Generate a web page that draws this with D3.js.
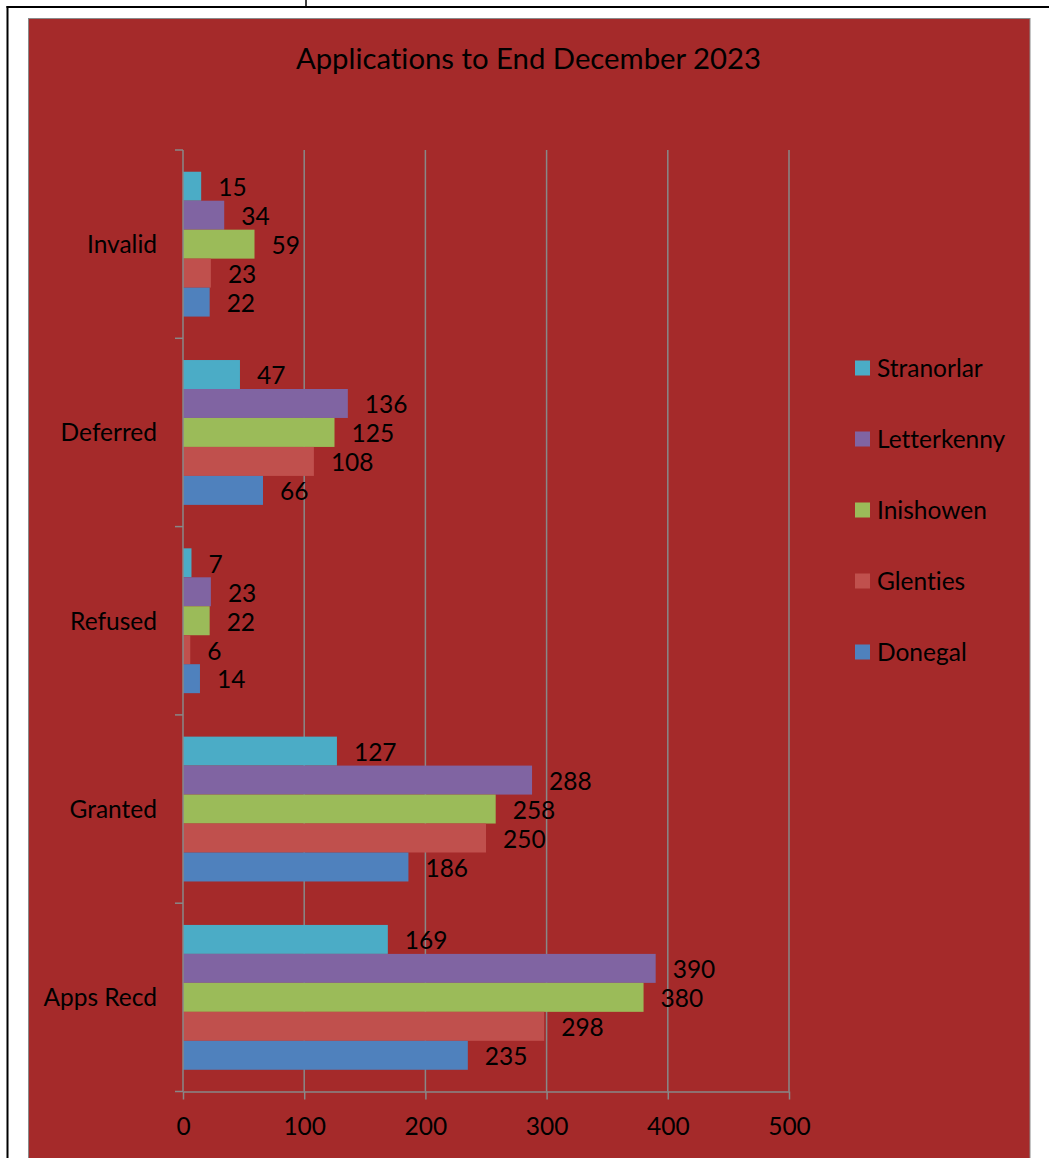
<!DOCTYPE html>
<html>
<head>
<meta charset="utf-8">
<script src="https://cdn.jsdelivr.net/npm/d3@7"></script>
<style>
  body { margin: 0; background: #fff; }
  svg { display: block; font-family: Lato, "Open Sans", sans-serif; font-variant-ligatures: none; }
</style>
</head>
<body>
<div id="chart"></div>
<script>
const categories = ["Invalid", "Deferred", "Refused", "Granted", "Apps Recd"],
    offices = ["Stranorlar", "Letterkenny", "Inishowen", "Glenties", "Donegal"],
    stranorlar = [15, 47, 7, 127, 169],
    letterkenny = [34, 136, 23, 288, 390],
    inishowen = [59, 125, 22, 258, 380],
    glenties = [23, 108, 6, 250, 298],
    donegal = [22, 66, 14, 186, 235],
    xTicks = [0, 100, 200, 300, 400, 500],
    colors = ["#4BACC6", "#8064A2", "#9BBB59", "#C0504D", "#4F81BD"];

const seriesValues = [stranorlar, letterkenny, inishowen, glenties, donegal];

const W = 1049, H = 1158,
    plot = {left: 183, right: 789, top: 150, bottom: 1091.5},
    grey = "#888888",
    fontSize = "24.5px";

const svg = d3.select("#chart").append("svg")
    .attr("width", W)
    .attr("height", H);

// frame lines around the chart (document table borders)
svg.append("line").attr("x1", 306).attr("x2", 306).attr("y1", 0).attr("y2", 7)
    .attr("stroke", "#000").attr("stroke-width", 1.5);
svg.append("line").attr("x1", 6.5).attr("x2", W).attr("y1", 7).attr("y2", 7)
    .attr("stroke", "#000").attr("stroke-width", 2);
svg.append("line").attr("x1", 7.5).attr("x2", 7.5).attr("y1", 6).attr("y2", H)
    .attr("stroke", "#000").attr("stroke-width", 2);

// chart area
svg.append("rect")
    .attr("x", 28.5).attr("y", 18.5)
    .attr("width", 1030 - 28.5).attr("height", H)
    .attr("fill", "#A52A2A")
    .attr("stroke", "#8a8a8a")
    .attr("stroke-width", 1);

svg.append("text")
    .attr("x", 528.5).attr("y", 69)
    .attr("text-anchor", "middle")
    .style("font-size", "29.3px")
    .style("fill", "#000")
    .text("Applications to End December 2023");

const x = d3.scaleLinear()
    .domain([0, 500])
    .range([plot.left, plot.right]);

const y = d3.scaleBand()
    .domain(categories)
    .range([plot.top, plot.bottom]);

const yInner = d3.scaleBand()
    .domain(offices)
    .range([0, y.bandwidth()])
    .paddingOuter(0.75);

// gridlines
svg.append("g").selectAll("line")
    .data(xTicks.slice(1))
    .enter().append("line")
    .attr("x1", d => x(d)).attr("x2", d => x(d))
    .attr("y1", plot.top).attr("y2", plot.bottom)
    .attr("stroke", grey).attr("stroke-width", 1.5);

// bars
const groups = svg.selectAll("g.office")
    .data(offices)
    .enter().append("g")
    .attr("class", "office")
    .style("fill", (d, i) => colors[i]);

groups.selectAll("rect")
    .data((o, i) => categories.map((c, j) => ({cat: c, office: o, value: seriesValues[i][j]})))
    .enter().append("rect")
    .attr("x", x(0))
    .attr("y", d => y(d.cat) + yInner(d.office))
    .attr("width", d => x(d.value) - x(0))
    .attr("height", yInner.bandwidth());

groups.selectAll("text")
    .data((o, i) => categories.map((c, j) => ({cat: c, office: o, value: seriesValues[i][j]})))
    .enter().append("text")
    .attr("x", d => x(d.value) + 17)
    .attr("y", d => y(d.cat) + yInner(d.office) + yInner.bandwidth() / 2)
    .attr("dy", "0.4em")
    .style("font-size", fontSize)
    .style("fill", "#000")
    .text(d => d.value);

// x axis
const xAxis = svg.append("g")
    .attr("transform", "translate(0," + plot.bottom + ")")
    .call(d3.axisBottom(x).tickValues(xTicks).tickSizeInner(8).tickSizeOuter(0));
xAxis.select(".domain").attr("stroke", grey).attr("stroke-width", 1.5);
xAxis.selectAll(".tick line").attr("stroke", grey).attr("stroke-width", 1.5);
xAxis.selectAll(".tick text")
    .attr("y", 43).attr("dy", 0)
    .style("font-size", fontSize)
    .style("font-family", "Lato, 'Open Sans', sans-serif")
    .style("fill", "#000");

// y axis: ticks on category boundaries, labels at band centres
const yAxis = svg.append("g");
yAxis.append("line")
    .attr("x1", plot.left).attr("x2", plot.left)
    .attr("y1", plot.top).attr("y2", plot.bottom)
    .attr("stroke", grey).attr("stroke-width", 1.5);
yAxis.selectAll("line.tick")
    .data(categories.map(c => y(c)).concat([y.range()[1]]))
    .enter().append("line")
    .attr("class", "tick")
    .attr("x1", plot.left - 8).attr("x2", plot.left)
    .attr("y1", d => d).attr("y2", d => d)
    .attr("stroke", grey).attr("stroke-width", 1.5);
yAxis.selectAll("text")
    .data(categories)
    .enter().append("text")
    .attr("x", 157)
    .attr("y", d => y(d) + y.bandwidth() / 2)
    .attr("dy", "0.36em")
    .attr("text-anchor", "end")
    .style("font-size", fontSize)
    .style("fill", "#000")
    .text(d => d);

// legend
const legend = svg.append("g")
    .attr("transform", "translate(855, 368)");
legend.selectAll("rect")
    .data(offices)
    .enter().append("rect")
    .attr("x", 0)
    .attr("y", (d, i) => i * 71 - 7.5)
    .attr("width", 15).attr("height", 15)
    .style("fill", (d, i) => colors[i]);
legend.selectAll("text")
    .data(offices)
    .enter().append("text")
    .attr("x", 22)
    .attr("y", (d, i) => i * 71)
    .attr("dy", "0.36em")
    .style("font-size", fontSize)
    .style("fill", "#000")
    .text(d => d);
</script>
</body>
</html>
